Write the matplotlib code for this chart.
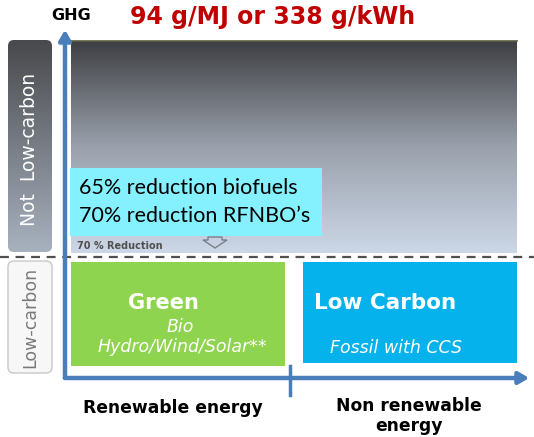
import matplotlib
matplotlib.use("Agg")
import matplotlib.pyplot as plt
import numpy as np
from matplotlib.patches import FancyBboxPatch, Rectangle, Polygon
from matplotlib.colors import LinearSegmentedColormap

# ---- content ----
title_text = "94 g/MJ or 338 g/kWh"
y_axis_label = "GHG"
band_labels = ["Not  Low-carbon", "Low-carbon"]
category_labels = ["Renewable energy", "Non renewable\nenergy"]
box_titles = ["Green", "Low Carbon"]
green_subtitles = ["Bio", "Hydro/Wind/Solar**"]
blue_subtitle = "Fossil with CCS"
reduction_notes = ["65% reduction biofuels", "70% reduction RFNBO\u2019s"]
threshold_label = "70 % Reduction"

W, H = 534, 437
fig = plt.figure(figsize=(W / 100, H / 100), dpi=100)
ax = fig.add_axes([0, 0, 1, 1])
ax.set_xlim(0, W)
ax.set_ylim(H, 0)
ax.axis("off")

axis_blue = "#4a7ebb"

# gradient area (not low-carbon region)
cmap = LinearSegmentedColormap.from_list(
    "g", [(0, "#3e3f43"), (0.5, "#9aa1ac"), (1, "#ccd7e7")])
grad = np.linspace(0, 1, 256).reshape(-1, 1)
ax.imshow(grad, cmap=cmap, extent=[71, 517, 253, 41], aspect="auto", zorder=1)
ax.plot([71, 517], [41, 41], color="#5b5e40", lw=1.2, zorder=2)

# left band labels
cmap2 = LinearSegmentedColormap.from_list("g2", ["#48494c", "#a8b1bf"])
img = ax.imshow(grad, cmap=cmap2, extent=[8, 52, 252, 40], aspect="auto", zorder=1)
clip = FancyBboxPatch((8, 40), 44, 212, boxstyle="round,pad=0,rounding_size=6",
                      transform=ax.transData, facecolor="none", edgecolor="none")
ax.add_patch(clip)
img.set_clip_path(clip)
ax.text(30, 149, band_labels[0], rotation=90, ha="center", va="center",
        color="white", fontsize=13.5, family="DejaVu Sans", zorder=3)

lc = FancyBboxPatch((8, 261), 44, 112, boxstyle="round,pad=0,rounding_size=6",
                    facecolor="#f7f7f7", edgecolor="#c8c8c8", lw=1, zorder=2)
ax.add_patch(lc)
ax.text(30, 317, band_labels[1], rotation=90, ha="center", va="center",
        color="#7a7a7a", fontsize=12.5, family="DejaVu Sans", zorder=3)

# dashed threshold line
ax.plot([0, W], [257, 257], color="#505050", lw=1.6, ls=(0, (4, 3)), zorder=4)

# boxes
ax.add_patch(Rectangle((71, 262), 214, 104, facecolor="#8fd44f", edgecolor="none", zorder=2))
ax.add_patch(Rectangle((303, 262), 214, 101, facecolor="#05b2ec", edgecolor="none", zorder=2))
ax.text(163, 303, box_titles[0], ha="center", va="center", color="white",
        fontsize=15, fontweight="bold", family="DejaVu Sans", zorder=3)
ax.text(180, 327, green_subtitles[0], ha="center", va="center", color="white",
        fontsize=12.5, style="italic", family="DejaVu Sans", zorder=3)
ax.text(182, 347, green_subtitles[1], ha="center", va="center", color="white",
        fontsize=12.5, style="italic", family="DejaVu Sans", zorder=3)
ax.text(385, 303, box_titles[1], ha="center", va="center", color="white",
        fontsize=15.5, fontweight="bold", family="DejaVu Sans", zorder=3)
ax.text(396, 348, blue_subtitle, ha="center", va="center", color="white",
        fontsize=12.5, style="italic", family="DejaVu Sans", zorder=3)

# cyan note box
ax.add_patch(Rectangle((70, 168), 252, 68, facecolor="#85f0fe", edgecolor="none", zorder=5))
ax.text(79, 188, reduction_notes[0], ha="left", va="center", color="black",
        fontsize=15.5, family="Lato", zorder=6)
ax.text(79, 216, reduction_notes[1], ha="left", va="center", color="black",
        fontsize=15.5, family="Lato", zorder=6)

# small threshold label and hollow arrow
ax.text(77, 246, threshold_label, ha="left", va="center", color="#505050",
        fontsize=7, fontweight="bold", family="DejaVu Sans", zorder=3)
arrow_pts = [(208, 237), (222, 237), (222, 240), (227, 240), (215, 248), (203, 240), (208, 240)]
ax.add_patch(Polygon(arrow_pts, closed=True, facecolor="none", edgecolor="#7a7f88", lw=1, zorder=3))

# axes arrows
ax.annotate("", xy=(65, 27), xytext=(65, 380),
            arrowprops=dict(arrowstyle="-|>,head_width=0.35,head_length=0.6",
                            color=axis_blue, lw=3.2), zorder=7)
ax.annotate("", xy=(532, 378), xytext=(62, 378),
            arrowprops=dict(arrowstyle="-|>,head_width=0.35,head_length=0.6",
                            color=axis_blue, lw=3.2), zorder=7)
ax.plot([290, 290], [366, 395], color=axis_blue, lw=2.5, zorder=7)

# text labels
ax.text(71, 15, y_axis_label, ha="center", va="center", color="black",
        fontsize=11.5, fontweight="bold", family="DejaVu Sans")
ax.text(273, 17, title_text, ha="center", va="center", color="#c00000",
        fontsize=17, fontweight="bold", family="DejaVu Sans")
ax.text(173, 408, category_labels[0], ha="center", va="center", color="black",
        fontsize=12.3, fontweight="bold", family="DejaVu Sans")
ax.text(409, 416, category_labels[1], ha="center", va="center", color="black",
        fontsize=12.3, fontweight="bold", family="DejaVu Sans", linespacing=1.1)

fig.savefig("out.png", dpi=100)
